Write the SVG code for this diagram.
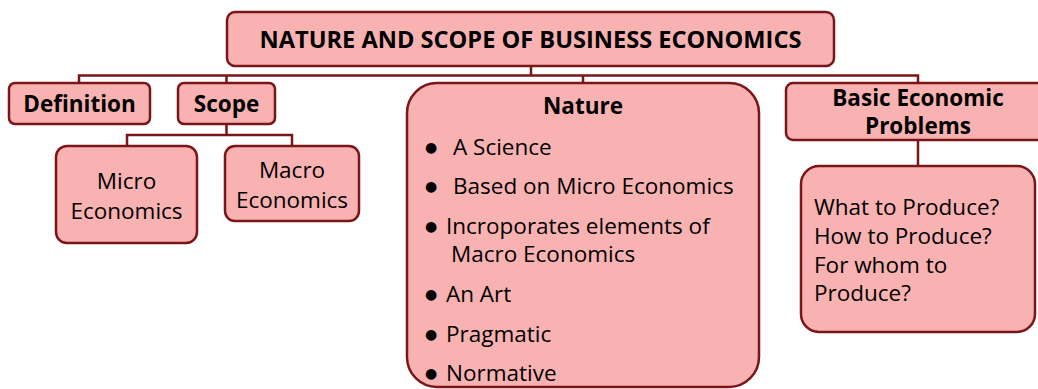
<svg xmlns="http://www.w3.org/2000/svg" width="1038" height="389" viewBox="0 0 1038 389">
<style>
.box{fill:#F8B2B2;stroke:#7A1518;stroke-width:2.5}
.con{fill:none;stroke:#7A1518;stroke-width:2.5}
text{font-family:"Open Sans","Noto Sans","DejaVu Sans",sans-serif;fill:#000}
.b{font-weight:bold;font-size:22.5px}
.t{font-weight:bold;font-size:23.6px}
.r{font-size:22.5px}
.bul{font-family:"DejaVu Sans",sans-serif;font-size:14px}
</style>
<rect width="1038" height="389" fill="#fff"/>
<g id="connectors">
<path class="con" d="M531 66V75.5M79 83V75.5H918V83M226.5 75.5V83M583 75.5V83"/>
<path class="con" d="M226.5 124V135M127 146V135H292V146"/>
<path class="con" d="M918 140V166"/>
</g>
<g id="title">
<rect class="box" x="227" y="12" width="607" height="54" rx="8"/>
<text class="t" x="530.5" y="47.5" text-anchor="middle">NATURE AND SCOPE OF BUSINESS ECONOMICS</text>
</g>
<g id="definition">
<rect class="box" x="9" y="83" width="141" height="41" rx="6"/>
<text class="b" x="79.5" y="112" text-anchor="middle">Definition</text>
</g>
<g id="scope">
<rect class="box" x="178" y="83" width="97" height="41" rx="6"/>
<text class="b" x="226.5" y="112" text-anchor="middle">Scope</text>
</g>
<g id="micro">
<rect class="box" x="56" y="146" width="141" height="97" rx="11"/>
<text class="r" x="126.5" y="189" text-anchor="middle">Micro</text>
<text class="r" x="126.5" y="219" text-anchor="middle">Economics</text>
</g>
<g id="macro">
<rect class="box" x="225" y="146" width="134" height="75" rx="10"/>
<text class="r" x="292" y="178" text-anchor="middle">Macro</text>
<text class="r" x="292" y="208" text-anchor="middle">Economics</text>
</g>
<g id="nature">
<rect class="box" x="407" y="83" width="352" height="304" rx="30"/>
<text class="b" x="583" y="114" text-anchor="middle">Nature</text>
<text class="bul" x="431" y="152" text-anchor="middle">●</text>
<text class="r" x="453" y="155">A Science</text>
<text class="bul" x="431" y="191" text-anchor="middle">●</text>
<text class="r" x="453" y="194">Based on Micro Economics</text>
<text class="bul" x="431" y="231" text-anchor="middle">●</text>
<text class="r" x="446" y="234">Incroporates elements of</text>
<text class="r" x="451" y="262">Macro Economics</text>
<text class="bul" x="431" y="299" text-anchor="middle">●</text>
<text class="r" x="446" y="302">An Art</text>
<text class="bul" x="431" y="339" text-anchor="middle">●</text>
<text class="r" x="446" y="342">Pragmatic</text>
<text class="bul" x="431" y="378" text-anchor="middle">●</text>
<text class="r" x="446" y="381">Normative</text>
</g>
<g id="basic">
<rect class="box" x="786" y="83" width="265" height="57" rx="7"/>
<text class="b" x="918" y="106" text-anchor="middle">Basic Economic</text>
<text class="b" x="918" y="134" text-anchor="middle">Problems</text>
</g>
<g id="questions">
<rect class="box" x="801" y="166" width="234" height="166" rx="18"/>
<text class="r" x="814" y="215">What to Produce?</text>
<text class="r" x="814" y="244">How to Produce?</text>
<text class="r" x="814" y="273">For whom to</text>
<text class="r" x="814" y="301">Produce?</text>
</g>
</svg>
